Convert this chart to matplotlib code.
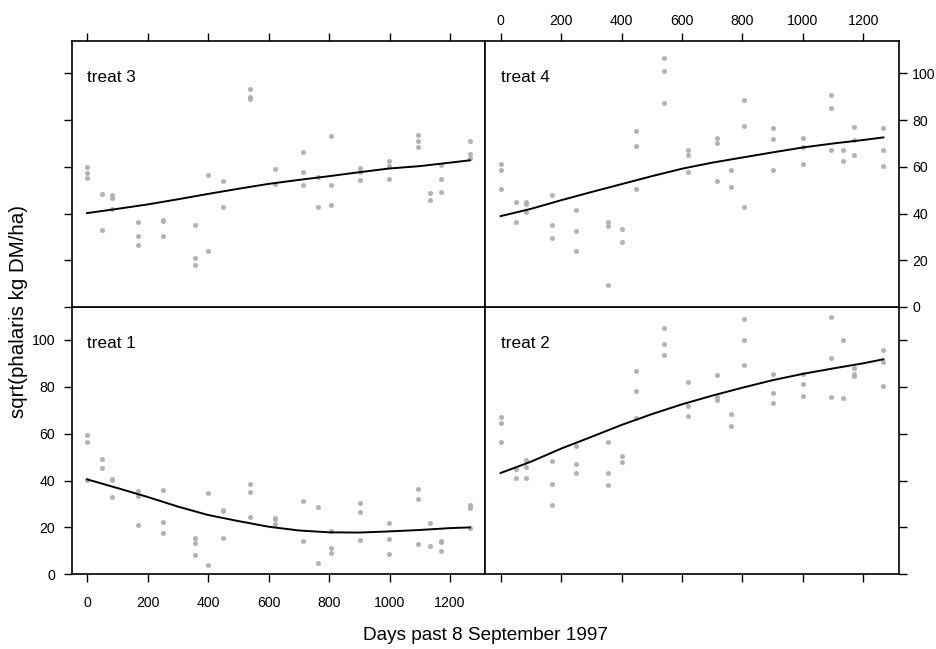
import matplotlib
matplotlib.use("Agg")
import matplotlib.pyplot as plt

plt.rcParams['font.family'] = ['Liberation Sans', 'DejaVu Sans']

# harvest days (x positions shared by all treatments)
days = [0, 50, 83, 169, 250, 356, 400, 449, 539, 621, 715, 762, 806, 902, 999, 1093, 1134, 1169, 1266]

# observed sqrt(phalaris) per harvest day, one list per treatment
treat1 = [[59.6, 56.5, 40.1], [49.2, 45.5], [40.5, 40.1, 32.9], [35.6, 33.3, 21.1],
          [35.8, 22.5, 17.6], [15.6, 13.4, 8.1], [34.6, 4.1], [27.5, 26.8, 15.5],
          [38.4, 35.1, 24.6], [24.2, 23.5, 21.3], [31.4, 14.2], [28.7, 4.7],
          [18.6, 11.4, 9.2], [30.6, 26.5, 14.8], [22.0, 15.1, 8.5], [36.3, 32.0, 13.1],
          [21.8, 12.1], [14.4, 13.7, 10.1], [29.6, 28.3, 19.6]]
treat2 = [[67.1, 64.4, 56.3], [44.8, 41.0], [48.6, 45.9, 41.0], [48.4, 38.3, 29.6],
          [54.9, 46.9, 43.1], [56.3, 43.0, 38.1], [50.4, 48.1], [86.5, 78.1, 66.6],
          [105.1, 98.3, 93.6], [81.9, 71.8, 67.7], [84.9, 75.8, 74.4], [68.3, 63.3],
          [108.7, 100.1, 89.2], [85.6, 77.4, 73.1], [85.6, 81.2, 76.2], [109.8, 92.2, 75.5],
          [100.1, 75.0], [88.1, 85.5, 84.6], [95.7, 90.6, 80.4]]
treat3 = [[60.0, 57.3, 55.4], [48.3, 33.0], [48.1, 46.7, 42.0], [36.2, 30.5, 26.5],
          [37.2, 36.8, 30.5], [34.9, 21.1, 18.1], [56.6, 23.9], [53.8, 42.6],
          [93.3, 89.9, 89.2], [59.0, 52.8], [66.2, 58.0, 52.4], [55.6, 42.6],
          [73.1, 52.1, 43.7], [59.3, 57.8, 54.4], [62.5, 60.3, 54.8], [73.6, 71.2, 68.4],
          [49.0, 45.7], [60.7, 54.7, 49.1], [71.2, 65.5, 63.8]]
treat4 = [[61.3, 58.6, 50.7], [44.9, 36.6], [45.0, 44.1, 40.7], [48.0, 35.1, 29.6],
          [41.6, 32.4, 24.1], [36.3, 34.6, 9.3], [33.3, 27.7], [75.4, 69.0, 50.4],
          [106.7, 100.9, 87.4], [67.0, 65.0, 57.6], [72.3, 70.1, 54.0], [58.7, 51.4],
          [88.6, 77.6, 42.6], [76.7, 72.1, 58.7], [72.3, 68.4, 61.4], [90.7, 85.0, 67.0],
          [67.0, 62.7], [77.1, 71.7, 64.9], [76.7, 67.1, 60.3]]

# smooth curves
smooth_x = [0, 100, 200, 300, 400, 500, 600, 700, 800, 900, 1000, 1100, 1200, 1266]
smooth1 = [40.5, 36.8, 33.0, 28.9, 25.3, 22.7, 20.3, 18.7, 17.9, 17.8, 18.3, 18.9, 19.7, 20.0]
smooth2 = [43.2, 48.0, 53.6, 58.6, 63.7, 68.3, 72.5, 76.2, 79.6, 82.8, 85.5, 87.8, 90.0, 91.7]
smooth3 = [40.2, 42.0, 43.9, 46.1, 48.4, 50.6, 52.7, 54.4, 56.0, 57.7, 59.3, 60.3, 61.8, 62.8]
smooth4 = [38.9, 42.0, 45.7, 49.2, 52.6, 56.0, 59.2, 61.8, 64.0, 66.2, 68.3, 70.0, 71.5, 72.6]

panels = {
    "treat 1": (treat1, smooth1),
    "treat 2": (treat2, smooth2),
    "treat 3": (treat3, smooth3),
    "treat 4": (treat4, smooth4),
}

W, H = 936, 649
fig = plt.figure(figsize=(W / 100, H / 100), dpi=100)

x0, xm, x1 = 71.7, 485.3, 898.7
y0, ym, y1 = 40.7, 307.0, 574.3

def rect(l, r, t, b):
    return [l / W, 1 - b / H, (r - l) / W, (b - t) / H]

layout = {
    "treat 3": rect(x0, xm, y0, ym),
    "treat 4": rect(xm, x1, y0, ym),
    "treat 1": rect(x0, xm, ym, y1),
    "treat 2": rect(xm, x1, ym, y1),
}

xticks = [0, 200, 400, 600, 800, 1000, 1200]
yticks = [0, 20, 40, 60, 80, 100]

for name, (obs, smooth) in panels.items():
    ax = fig.add_axes(layout[name])
    xs, ys = [], []
    for d, vals in zip(days, obs):
        for v in vals:
            xs.append(d)
            ys.append(v)
    ax.scatter(xs, ys, s=13, color="#b2b2b2", linewidths=0, zorder=2)
    ax.plot(smooth_x, smooth, color="black", lw=1.4, zorder=3)
    ax.set_xlim(-50.6, 1316.6)
    ax.set_ylim(0, 114)
    ax.text(0.038, 0.863, name, transform=ax.transAxes, fontsize=12.3,
            ha="left", va="center")
    for sp in ax.spines.values():
        sp.set_linewidth(1.2)

    left_col = name in ("treat 1", "treat 3")
    top_row = name in ("treat 3", "treat 4")
    ax.set_xticks(xticks)
    ax.set_yticks(yticks)
    ax.tick_params(direction="out", length=5.8, width=1, labelsize=10.2,
                   bottom=not top_row, top=top_row,
                   labelbottom=(name == "treat 1"), labeltop=(name == "treat 4"),
                   left=left_col, right=not left_col,
                   labelleft=(name == "treat 1"), labelright=(name == "treat 4"))
    ax.tick_params(axis="x", pad=3 if top_row else 10)
    ax.tick_params(axis="y", pad=6 if left_col else 4)

fig.text(485 / W, 1 - 636 / H, "Days past 8 September 1997", fontsize=13.7,
         ha="center", va="center")
fig.text(19 / W, 1 - 311.5 / H, "sqrt(phalaris kg DM/ha)", fontsize=14.8,
         ha="center", va="center", rotation=90)

fig.savefig("out.png", dpi=100)
